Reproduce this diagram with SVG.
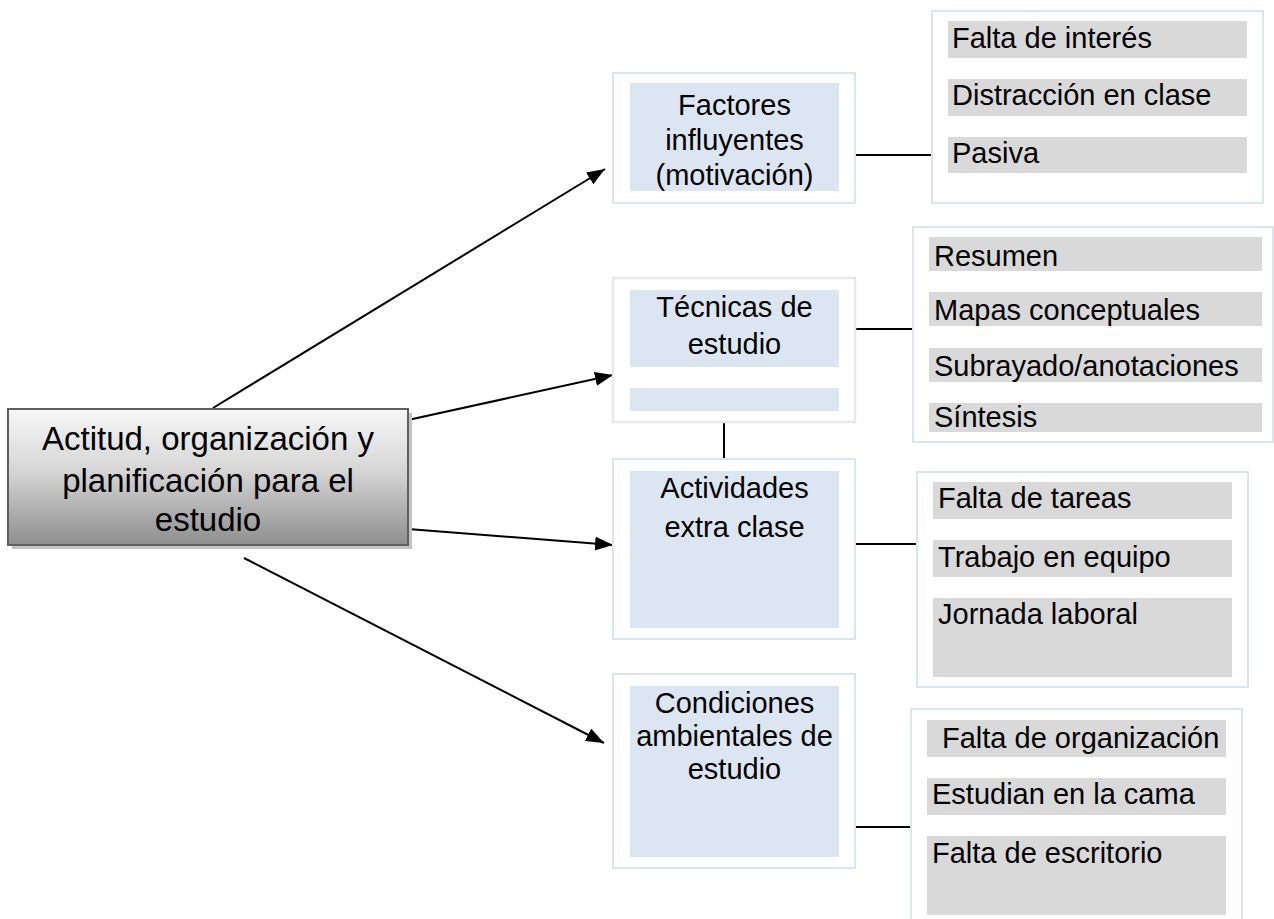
<svg xmlns="http://www.w3.org/2000/svg" width="1274" height="919" viewBox="0 0 1274 919">
<defs>
<linearGradient id="mainGrad" x1="0" y1="0" x2="0" y2="1">
<stop offset="0" stop-color="#f7f7f7"/>
<stop offset="0.45" stop-color="#d6d6d6"/>
<stop offset="1" stop-color="#8e8e8e"/>
</linearGradient>
<marker id="arrow" markerUnits="userSpaceOnUse" markerWidth="20" markerHeight="14" refX="18" refY="7" orient="auto">
<path d="M0,0 L18,7 L0,14 Z" fill="#000"/>
</marker>
</defs>
<style>
.outer{fill:#fff;stroke:#dbe5f1;stroke-width:2}
.outerGray{fill:#fff;stroke:#e8e8e8;stroke-width:2.5}
.inner{fill:#dce6f2}
.bar{fill:#d9d9d9}
.node{font-family:"Liberation Sans",Arial,sans-serif;font-size:29px;fill:#000;text-anchor:middle}
.item{font-family:"Liberation Sans",Arial,sans-serif;font-size:29px;fill:#000}
.main{font-family:"Liberation Sans",Arial,sans-serif;font-size:33px;fill:#000;text-anchor:middle}
.conn{stroke:#000;stroke-width:2;fill:none}
</style>
<rect width="1274" height="919" fill="#fff"/>

<g id="connectors">
<line class="conn" x1="213" y1="408" x2="605" y2="169" marker-end="url(#arrow)"/>
<line class="conn" x1="408" y1="420" x2="613" y2="375" marker-end="url(#arrow)"/>
<line class="conn" x1="408" y1="529" x2="613" y2="545" marker-end="url(#arrow)"/>
<line class="conn" x1="244" y1="558" x2="604" y2="743" marker-end="url(#arrow)"/>
<line class="conn" x1="855" y1="155" x2="932" y2="155"/>
<line class="conn" x1="855" y1="329" x2="913" y2="329"/>
<line class="conn" x1="724" y1="422" x2="724" y2="459"/>
<line class="conn" x1="855" y1="544" x2="917" y2="544"/>
<line class="conn" x1="855" y1="827" x2="911" y2="827"/>
</g>

<g id="main">
<rect x="12" y="413" width="400" height="136" fill="#c4c4c4"/>
<rect x="8" y="409" width="400" height="136" fill="url(#mainGrad)" stroke="#5f5f5f" stroke-width="2"/>
<text class="main" x="208" y="450">Actitud, organización y</text>
<text class="main" x="208" y="492">planificación para el</text>
<text class="main" x="208" y="531">estudio</text>
</g>

<g id="factores">
<rect class="outer" x="613" y="73" width="242" height="130"/>
<rect class="inner" x="630" y="83" width="209" height="108"/>
<text class="node" x="734.5" y="115">Factores</text>
<text class="node" x="734.5" y="150">influyentes</text>
<text class="node" x="734.5" y="185">(motivación)</text>
</g>

<g id="tecnicas">
<rect class="outerGray" x="613" y="278" width="242" height="144"/>
<rect class="inner" x="630" y="290" width="209" height="77"/>
<rect class="inner" x="630" y="388" width="209" height="23"/>
<text class="node" x="734.5" y="317">Técnicas de</text>
<text class="node" x="734.5" y="354">estudio</text>
</g>

<g id="actividades">
<rect class="outer" x="613" y="459" width="242" height="180"/>
<rect class="inner" x="630" y="471" width="209" height="157"/>
<text class="node" x="734.5" y="498">Actividades</text>
<text class="node" x="734.5" y="537">extra clase</text>
</g>

<g id="condiciones">
<rect class="outer" x="613" y="674" width="242" height="194"/>
<rect class="inner" x="630" y="686" width="209" height="171"/>
<text class="node" x="734.5" y="713">Condiciones</text>
<text class="node" x="734.5" y="746">ambientales de</text>
<text class="node" x="734.5" y="779">estudio</text>
</g>

<g id="motivacion-items">
<rect class="outer" x="932" y="11" width="331" height="192"/>
<rect class="bar" x="948" y="21" width="299" height="37"/>
<rect class="bar" x="948" y="79" width="299" height="37"/>
<rect class="bar" x="948" y="137" width="299" height="36"/>
<text class="item" x="952" y="48">Falta de interés</text>
<text class="item" x="952" y="105">Distracción en clase</text>
<text class="item" x="952" y="163">Pasiva</text>
</g>

<g id="tecnicas-items">
<rect class="outer" x="913" y="227" width="360" height="215"/>
<rect class="bar" x="929" y="237" width="333" height="34"/>
<rect class="bar" x="929" y="292" width="333" height="34"/>
<rect class="bar" x="929" y="348" width="333" height="34"/>
<rect class="bar" x="929" y="403" width="333" height="29"/>
<text class="item" x="934" y="266">Resumen</text>
<text class="item" x="934" y="320">Mapas conceptuales</text>
<text class="item" x="934" y="376">Subrayado/anotaciones</text>
<text class="item" x="934" y="427">Síntesis</text>
</g>

<g id="actividades-items">
<rect class="outer" x="917" y="472" width="331" height="215"/>
<rect class="bar" x="933" y="482" width="299" height="37"/>
<rect class="bar" x="933" y="540" width="299" height="37"/>
<rect class="bar" x="933" y="598" width="299" height="79"/>
<text class="item" x="938" y="508">Falta de tareas</text>
<text class="item" x="938" y="567">Trabajo en equipo</text>
<text class="item" x="938" y="624">Jornada laboral</text>
</g>

<g id="condiciones-items">
<rect class="outer" x="911" y="709" width="331" height="220"/>
<rect class="bar" x="927" y="720" width="299" height="37"/>
<rect class="bar" x="927" y="778" width="299" height="37"/>
<rect class="bar" x="927" y="836" width="299" height="79"/>
<text class="item" x="942" y="748">Falta de organización</text>
<text class="item" x="932" y="804">Estudian en la cama</text>
<text class="item" x="932" y="863">Falta de escritorio</text>
</g>
</svg>
